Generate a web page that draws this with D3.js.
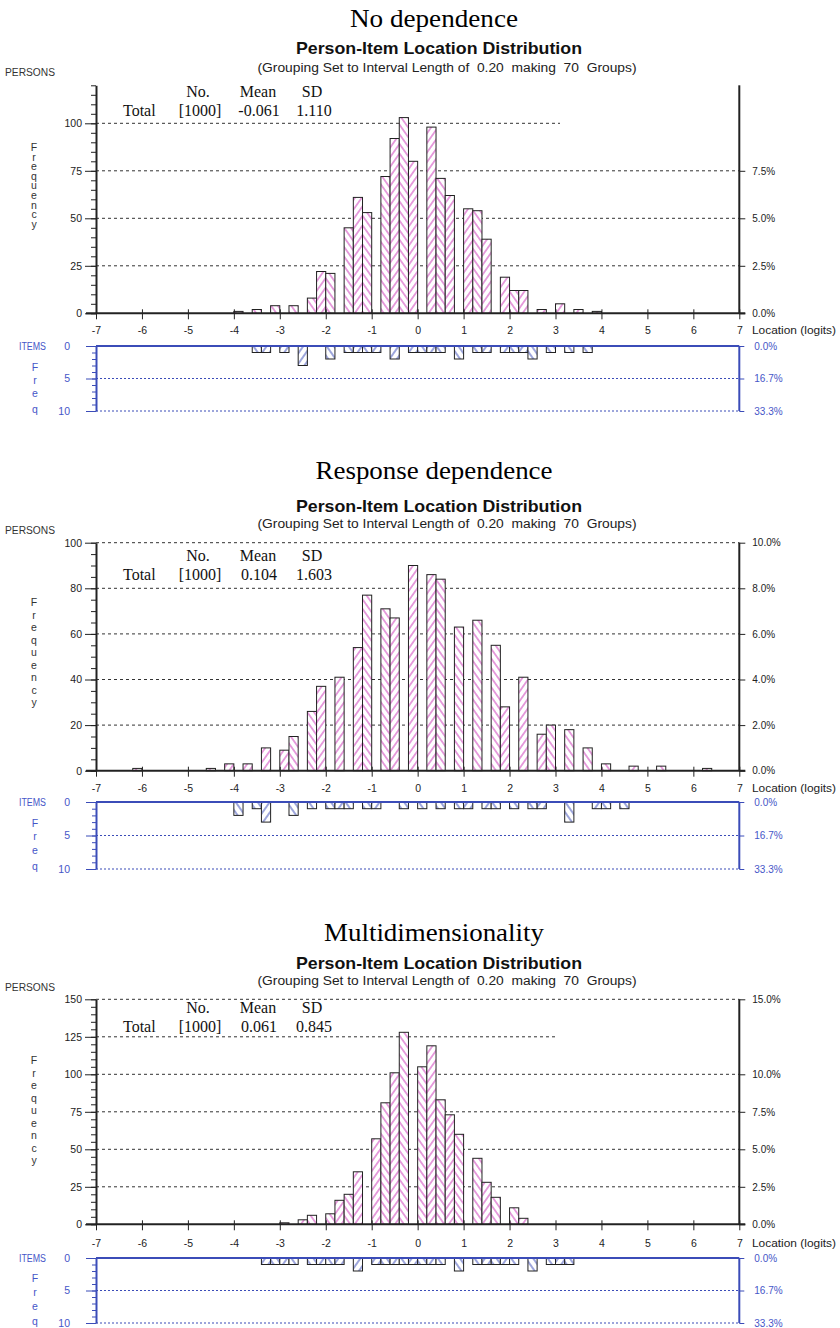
<!DOCTYPE html>
<html><head><meta charset="utf-8">
<script src="https://cdn.jsdelivr.net/npm/d3@7"></script>
<style>
body{margin:0;background:#fff;}
svg text{white-space:pre;}
</style></head><body>
<svg id="chart" width="840" height="1328"></svg>
<script>
// ---------------- DATA ----------------
const panelTitles = ["No dependence", "Response dependence", "Multidimensionality"];
const chartHeading = "Person-Item Location Distribution";
const chartSubheading = "(Grouping Set to Interval Length of  0.20  making  70  Groups)";
const statHeaders = ["No.", "Mean", "SD"];
const statTotals = ["[1000]", "[1000]", "[1000]"];
const statMeans = ["-0.061", "0.104", "0.061"];
const statSDs = ["1.110", "1.603", "0.845"];
const xTicks = [-7, -6, -5, -4, -3, -2, -1, 0, 1, 2, 3, 4, 5, 6, 7];
const binWidth = 0.2;

// persons: lower edge of each non-empty 0.2-logit group, and its count
const p1Loc = [-4.0,-3.6,-3.2,-2.8,-2.4,-2.2,-2.0,-1.6,-1.4,-1.2,-0.8,-0.6,-0.4,-0.2,0.2,0.4,0.6,1.0,1.2,1.4,1.8,2.0,2.2,2.6,3.0,3.4,3.8];
const p1Cnt = [1,2,4,4,8,22,21,45,61,53,72,92,103,80,98,71,62,55,54,39,19,12,12,2,5,2,1];
const p2Loc = [-6.2,-4.6,-4.2,-3.8,-3.4,-3.0,-2.8,-2.4,-2.2,-1.8,-1.4,-1.2,-0.8,-0.6,-0.2,0.2,0.4,0.8,1.2,1.6,1.8,2.2,2.6,2.8,3.2,3.6,4.0,4.6,5.2,6.2];
const p2Cnt = [1,1,3,3,10,9,15,26,37,41,54,77,71,67,90,86,84,63,66,55,28,41,16,20,18,10,3,2,2,1];
const p3Loc = [-3.0,-2.6,-2.4,-2.0,-1.8,-1.6,-1.4,-1.0,-0.8,-0.6,-0.4,0.0,0.2,0.4,0.6,0.8,1.2,1.4,1.6,2.0,2.2];
const p3Cnt = [1,3,6,7,16,20,35,57,81,101,128,105,119,83,73,60,44,28,18,11,4];

// items
const i1Loc = [-3.6,-3.4,-3.0,-2.6,-2.0,-1.6,-1.4,-1.2,-1.0,-0.6,-0.2,0.0,0.2,0.4,0.8,1.2,1.4,1.8,2.0,2.2,2.4,2.8,3.2,3.6];
const i1Cnt = [1,1,1,3,2,1,1,1,1,2,1,1,1,1,2,1,1,1,1,1,2,1,1,1];
const i2Loc = [-4.0,-3.6,-3.4,-2.8,-2.4,-2.0,-1.8,-1.6,-1.2,-1.0,-0.4,0.0,0.4,0.8,1.0,1.4,1.6,2.0,2.4,2.6,3.2,3.8,4.0,4.4];
const i2Cnt = [2,1,3,2,1,1,1,1,1,1,1,1,1,1,1,1,1,1,1,1,3,1,1,1];
const i3Loc = [-3.4,-3.2,-3.0,-2.8,-2.4,-2.2,-2.0,-1.8,-1.4,-1.0,-0.8,-0.6,-0.4,-0.2,0.0,0.2,0.4,0.8,1.2,1.4,1.6,1.8,2.0,2.4,2.8,3.0,3.2];
const i3Cnt = [1,1,1,1,1,1,1,1,2,1,1,1,1,1,1,1,1,2,1,1,1,1,1,2,1,1,1];

// axis ticks
const p1YTicks = [0,25,50,75,100];
const p2YTicks = [0,20,40,60,80,100];
const p3YTicks = [0,25,50,75,100,125,150];
const p1PctTicks = [0,25,50,75];
const p2PctTicks = [0,20,40,60,80,100];
const p3PctTicks = [0,25,50,75,100,150];
const itemTicks = [0,5,10];
const itemPctLabels = ["0.0%","16.7%","33.3%"];
const totalPersons = 1000;

// ---------------- LAYOUT ----------------
const SANS = "'Liberation Sans', Arial, sans-serif";
const SERIF = "'Liberation Serif', 'Times New Roman', serif";
const PINK = "#d455c4";
const BLUE = "#3b4cb8";
const BLUE_T = "#4656c8";
const INK = "#222";

const panels = [
  {title:27, head:54, sub:72, persons:76, top:85.3, base:313.3, yMax:120, stat1:97, stat2:116,
   freq0:147, freqStep:9.6, xlab:334, iTop:346, iBot:411, ifreq:[367,380,393,409],
   yTicks:p1YTicks, pct:p1PctTicks, gridShort:[100], shortEnd:560, titleW:168,
   loc:p1Loc, cnt:p1Cnt, iloc:i1Loc, icnt:i1Cnt},
  {title:479, head:512, sub:528, persons:534, top:542.7, base:770.7, yMax:100, stat1:561, stat2:580,
   freq0:602, freqStep:12.5, xlab:792, iTop:802, iBot:869, ifreq:[823,836,850,866],
   yTicks:p2YTicks, pct:p2PctTicks, gridShort:[], shortEnd:560, titleW:237,
   loc:p2Loc, cnt:p2Cnt, iloc:i2Loc, icnt:i2Cnt},
  {title:941, head:969, sub:985, persons:991, top:999.3, base:1224.3, yMax:150, stat1:1013, stat2:1032,
   freq0:1060, freqStep:12.5, xlab:1247, iTop:1258, iBot:1323, ifreq:[1278,1292,1306,1321],
   yTicks:p3YTicks, pct:p3PctTicks, gridShort:[125], shortEnd:556, titleW:220,
   loc:p3Loc, cnt:p3Cnt, iloc:i3Loc, icnt:i3Cnt}
];

const svg = d3.select("#chart");
const defs = svg.append("defs");
function hatch(id, color, angle, gap, w) {
  const p = defs.append("pattern").attr("id", id).attr("patternUnits", "userSpaceOnUse")
    .attr("width", gap).attr("height", gap).attr("patternTransform", `rotate(${angle})`);
  p.append("rect").attr("width", gap).attr("height", gap).attr("fill", "#fff");
  p.append("line").attr("x1", gap/2).attr("y1", -1).attr("x2", gap/2).attr("y2", gap+1)
    .attr("stroke", color).attr("stroke-width", w);
}
hatch("pA", PINK, 35, 5.5, 1.1);
hatch("pB", PINK, -35, 5.5, 1.1);
hatch("bA", BLUE, 35, 6, 1);
hatch("bB", BLUE, -35, 6, 1);

const x = d3.scaleLinear().domain([-7, 7]).range([96, 739.3]);
const binIndex = l => Math.round((l + 7) / binWidth);

panels.forEach((P, pi) => {
  const g = svg.append("g");
  const y = d3.scaleLinear().domain([0, P.yMax]).range([P.base, P.top]);
  const yi = d3.scaleLinear().domain([0, 10]).range([P.iTop, P.iBot]);
  const xl = x(-7), xr = x(7);

  // titles
  g.append("text").attr("x", 434).attr("y", P.title).attr("text-anchor", "middle")
    .attr("font-family", SERIF).attr("font-size", 25).attr("fill", "#000")
    .attr("textLength", P.titleW).attr("lengthAdjust", "spacingAndGlyphs").text(panelTitles[pi]);
  g.append("text").attr("x", 439).attr("y", P.head).attr("text-anchor", "middle")
    .attr("font-family", SANS).attr("font-weight", "bold").attr("font-size", 16.5).attr("fill", "#111")
    .attr("textLength", 286).attr("lengthAdjust", "spacingAndGlyphs").text(chartHeading);
  g.append("text").attr("x", 447).attr("y", P.sub).attr("text-anchor", "middle")
    .attr("font-family", SANS).attr("font-size", 12.5).attr("fill", "#222")
    .attr("textLength", 379).attr("lengthAdjust", "spacingAndGlyphs").text(chartSubheading);
  g.append("text").attr("x", 5).attr("y", P.persons).attr("font-family", SANS).attr("font-size", 10)
    .attr("fill", "#333").attr("textLength", 50).attr("lengthAdjust", "spacingAndGlyphs").text("PERSONS");

  // "Frequency" vertical letters
  "Frequency".split("").forEach((c, k) => {
    g.append("text").attr("x", 34).attr("y", P.freq0 + k * P.freqStep + 4).attr("text-anchor", "middle")
      .attr("font-family", SANS).attr("font-size", 10.5).attr("fill", "#333").text(c);
  });

  // gridlines
  const fullGrid = P.yTicks.filter(v => v > 0 && !P.gridShort.includes(v));
  g.selectAll(null).data(fullGrid).join("line")
    .attr("x1", xl).attr("x2", xr).attr("y1", d => y(d)).attr("y2", d => y(d))
    .attr("stroke", "#333").attr("stroke-width", 1).attr("stroke-dasharray", "3,3");
  g.selectAll(null).data(P.gridShort).join("line")
    .attr("x1", xl).attr("x2", P.shortEnd).attr("y1", d => y(d)).attr("y2", d => y(d))
    .attr("stroke", "#333").attr("stroke-width", 1).attr("stroke-dasharray", "3,3");

  // stats
  const st = g.append("g").attr("font-family", SERIF).attr("font-size", 16).attr("fill", "#111");
  st.append("text").attr("x", 198).attr("y", P.stat1).attr("text-anchor", "middle").text(statHeaders[0]);
  st.append("text").attr("x", 258).attr("y", P.stat1).attr("text-anchor", "middle").text(statHeaders[1]);
  st.append("text").attr("x", 312).attr("y", P.stat1).attr("text-anchor", "middle").text(statHeaders[2]);
  st.append("text").attr("x", 123).attr("y", P.stat2).text("Total");
  st.append("text").attr("x", 200).attr("y", P.stat2).attr("text-anchor", "middle").text(statTotals[pi]);
  st.append("text").attr("x", 259).attr("y", P.stat2).attr("text-anchor", "middle").text(statMeans[pi]);
  st.append("text").attr("x", 314).attr("y", P.stat2).attr("text-anchor", "middle").text(statSDs[pi]);

  // person bars
  const pdata = P.loc.map((l, k) => ({l, c: P.cnt[k]}));
  g.selectAll(null).data(pdata).join("rect")
    .attr("x", d => x(d.l)).attr("width", d => x(d.l + binWidth) - x(d.l))
    .attr("y", d => y(d.c)).attr("height", d => y(0) - y(d.c))
    .attr("fill", d => binIndex(d.l) % 2 ? "url(#pB)" : "url(#pA)")
    .attr("stroke", "#222").attr("stroke-width", 1);

  // left axis (minor + major)
  g.append("g").attr("transform", `translate(${xl},0)`)
    .call(d3.axisLeft(y).tickValues(d3.range(0, P.yMax + 1, 5)).tickSize(5).tickSizeOuter(0).tickFormat(""))
    .call(a => a.select(".domain").attr("stroke", INK).attr("stroke-width", 2))
    .call(a => a.selectAll(".tick line").attr("stroke", INK));
  g.append("g").attr("transform", `translate(${xl},0)`)
    .call(d3.axisLeft(y).tickValues(P.yTicks).tickSize(11).tickPadding(3).tickSizeOuter(0).tickFormat(d => String(d)))
    .call(a => a.select(".domain").remove())
    .call(a => a.selectAll(".tick line").attr("stroke", INK))
    .call(a => a.selectAll(".tick text").attr("font-family", SANS).attr("font-size", 10.5).attr("fill", INK));

  // right axis
  g.append("line").attr("x1", xr).attr("x2", xr).attr("y1", y(P.yMax)).attr("y2", y(0))
    .attr("stroke", INK).attr("stroke-width", 2);
  g.append("g").attr("transform", `translate(${xr},0)`)
    .call(d3.axisRight(y).tickValues(P.pct).tickSize(6).tickPadding(7).tickSizeOuter(0)
      .tickFormat(d => (d / totalPersons * 100).toFixed(1) + "%"))
    .call(a => a.select(".domain").remove())
    .call(a => a.selectAll(".tick line").attr("stroke", INK))
    .call(a => a.selectAll(".tick text").attr("font-family", SANS).attr("font-size", 10).attr("fill", INK));

  // baseline and x axis
  g.append("line").attr("x1", xl - 10).attr("x2", xr + 6).attr("y1", y(0)).attr("y2", y(0))
    .attr("stroke", INK).attr("stroke-width", 2);
  g.append("g").attr("transform", `translate(0,${y(0) - 4})`)
    .call(d3.axisBottom(x).tickValues(xTicks).tickSize(10).tickPadding(6).tickSizeOuter(0).tickFormat(d => String(d)))
    .call(a => a.select(".domain").remove())
    .call(a => a.selectAll(".tick line").attr("stroke", INK))
    .call(a => a.selectAll(".tick text").attr("font-family", SANS).attr("font-size", 10.5).attr("fill", INK)
      .attr("y", null).attr("dy", null).attr("transform", `translate(0,${P.xlab - (y(0) - 4)})`));
  g.append("text").attr("x", 752).attr("y", P.xlab).attr("font-family", SANS).attr("font-size", 10.5)
    .attr("fill", INK).attr("textLength", 84).attr("lengthAdjust", "spacingAndGlyphs").text("Location (logits)");

  // ---------- items ----------
  g.selectAll(null).data([5, 10]).join("line")
    .attr("x1", xl).attr("x2", xr).attr("y1", d => yi(d)).attr("y2", d => yi(d))
    .attr("stroke", BLUE).attr("stroke-width", 1.2).attr("stroke-dasharray", "2,2");
  const idata = P.iloc.map((l, k) => ({l, c: P.icnt[k]}));
  g.selectAll(null).data(idata).join("rect")
    .attr("x", d => x(d.l)).attr("width", d => x(d.l + binWidth) - x(d.l))
    .attr("y", yi(0)).attr("height", d => yi(d.c) - yi(0))
    .attr("fill", d => binIndex(d.l) % 2 ? "url(#bB)" : "url(#bA)")
    .attr("stroke", "#222").attr("stroke-width", 1);
  g.append("line").attr("x1", xl).attr("x2", xr).attr("y1", yi(0)).attr("y2", yi(0))
    .attr("stroke", BLUE).attr("stroke-width", 2);
  g.append("g").attr("transform", `translate(${xl},0)`)
    .call(d3.axisLeft(yi).tickValues(d3.range(0, 11)).tickSize(4).tickSizeOuter(0).tickFormat(""))
    .call(a => a.select(".domain").attr("stroke", BLUE).attr("stroke-width", 2))
    .call(a => a.selectAll(".tick line").attr("stroke", BLUE));
  g.append("g").attr("transform", `translate(${xl},0)`)
    .call(d3.axisLeft(yi).tickValues(itemTicks).tickSize(10).tickPadding(16).tickSizeOuter(0).tickFormat(d => String(d)))
    .call(a => a.select(".domain").remove())
    .call(a => a.selectAll(".tick line").attr("stroke", BLUE))
    .call(a => a.selectAll(".tick text").attr("font-family", SANS).attr("font-size", 10.5).attr("fill", BLUE_T));
  g.append("line").attr("x1", xr).attr("x2", xr).attr("y1", yi(0)).attr("y2", yi(10))
    .attr("stroke", BLUE).attr("stroke-width", 2);
  g.append("g").attr("transform", `translate(${xr},0)`)
    .call(d3.axisRight(yi).tickValues(itemTicks).tickSize(5).tickPadding(10).tickSizeOuter(0)
      .tickFormat((d, k) => itemPctLabels[k]))
    .call(a => a.select(".domain").remove())
    .call(a => a.selectAll(".tick line").attr("stroke", BLUE))
    .call(a => a.selectAll(".tick text").attr("font-family", SANS).attr("font-size", 10).attr("fill", BLUE_T));
  g.append("text").attr("x", 19).attr("y", yi(0) + 4).attr("font-family", SANS).attr("font-size", 10)
    .attr("fill", BLUE_T).attr("textLength", 27).attr("lengthAdjust", "spacingAndGlyphs").text("ITEMS");
  "Freq".split("").forEach((c, k) => {
    g.append("text").attr("x", 35).attr("y", P.ifreq[k] + 4).attr("text-anchor", "middle")
      .attr("font-family", SANS).attr("font-size", 10.5).attr("fill", BLUE_T).text(c);
  });
});
</script>
</body></html>
